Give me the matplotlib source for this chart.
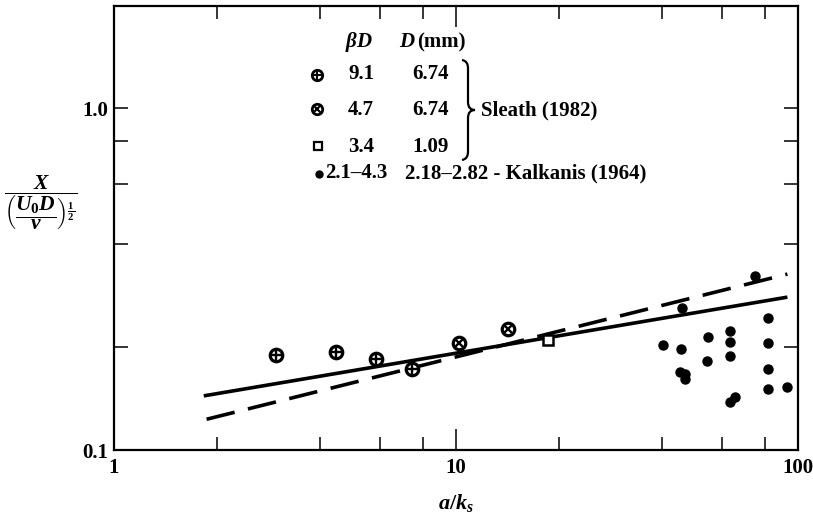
import numpy as np
import matplotlib
matplotlib.use('Agg')
import matplotlib.pyplot as plt
from matplotlib.path import Path
from matplotlib.patches import PathPatch
from matplotlib.ticker import FixedLocator, FixedFormatter, NullFormatter

plt.rcParams['font.family'] = ['Liberation Serif', 'DejaVu Serif']
plt.rcParams['font.weight'] = 'bold'
plt.rcParams['mathtext.fontset'] = 'custom'
plt.rcParams['mathtext.rm'] = 'Liberation Serif:bold'
plt.rcParams['mathtext.it'] = 'Liberation Serif:italic:bold'
plt.rcParams['mathtext.bf'] = 'Liberation Serif:bold'

# Sleath (1982) points
plus_x = [2.98, 4.47, 5.82, 7.42]          # betaD = 9.1
plus_y = [0.190, 0.194, 0.185, 0.172]
cross_x = [10.2, 14.2]                      # betaD = 4.7
cross_y = [0.205, 0.226]
square_x = [18.6]                           # betaD = 3.4
square_y = [0.210]

# Kalkanis (1964)
kalk_x = [75.0, 45.7, 81.8, 63.3, 54.4, 63.3, 81.8, 40.4, 45.6, 63.3,
          54.2, 81.8, 45.1, 46.6, 46.6, 81.8, 92.9, 63.2, 65.4]
kalk_y = [0.323, 0.261, 0.243, 0.223, 0.214, 0.207, 0.206, 0.203, 0.198, 0.188,
          0.182, 0.172, 0.169, 0.167, 0.161, 0.151, 0.153, 0.138, 0.143]

# fitted lines (end points)
solid_x = [1.83, 93.1]
solid_y = [0.144, 0.280]
dash_x = [1.865, 93.1]
dash_y = [0.123, 0.327]

x_ticks = [1, 10, 100]
x_tick_labels = ['1', '10', '100']
x_minor = [2, 4, 6, 8, 20, 40, 60, 80]
y_ticks = [0.1, 1.0]
y_tick_labels = ['0.1', '1.0']
y_minor = [0.2, 0.4, 0.6, 0.8]

W, H = 813, 516
fig = plt.figure(figsize=(W / 100, H / 100), dpi=100)
ax = fig.add_axes([114 / W, 1 - 450 / H, 684 / W, 444 / H])
ax.set_xscale('log')
ax.set_yscale('log')
ax.set_xlim(1, 100)
ax.set_ylim(0.1, 1.99)


def px(x, y):
    # pixel position (from top left) -> figure fraction
    return x / W, 1 - y / H


ax.plot(solid_x, solid_y, color='black', lw=2.6, solid_capstyle='butt')
ax.plot(dash_x, dash_y, color='black', lw=2.6, linestyle=(0, (8, 3.8)), dash_capstyle='butt')

ms = 9
ax.plot(plus_x, plus_y, 'o', ms=ms, mfc='white', mec='black', mew=2.3, ls='none')
ax.plot(plus_x, plus_y, '+', ms=ms, mec='black', mew=1.7, ls='none')
ax.plot(cross_x, cross_y, 'o', ms=ms, mfc='white', mec='black', mew=2.3, ls='none')
ax.plot(cross_x, cross_y, 'x', ms=ms * 0.7, mec='black', mew=1.7, ls='none')
ax.plot(square_x, square_y, 's', ms=7.5, mfc='white', mec='black', mew=1.8, ls='none')
ax.plot(kalk_x, kalk_y, 'o', ms=6.5, color='black', ls='none')

# ticks
ax.xaxis.set_major_locator(FixedLocator(x_ticks))
ax.xaxis.set_major_formatter(FixedFormatter(x_tick_labels))
ax.xaxis.set_minor_locator(FixedLocator(x_minor))
ax.xaxis.set_minor_formatter(NullFormatter())
ax.yaxis.set_major_locator(FixedLocator(y_ticks))
ax.yaxis.set_major_formatter(FixedFormatter(y_tick_labels))
ax.yaxis.set_minor_locator(FixedLocator(y_minor))
ax.yaxis.set_minor_formatter(NullFormatter())
ax.tick_params(which='both', direction='in', top=True, right=True, width=1.1, labelsize=15)
ax.tick_params(axis='x', which='major', length=15, pad=6)
ax.tick_params(axis='x', which='minor', length=9.5)
ax.tick_params(axis='y', which='both', length=10, pad=4)
for s in ax.spines.values():
    s.set_linewidth(1.6)

ax.set_xlabel(r'$a/k_s$', fontsize=16, labelpad=10)
fig.text(*px(4, 203), r'$\dfrac{X}{\left(\dfrac{U_0D}{\nu}\right)^{\frac{1}{2}}}$',
         fontsize=15.5, ha='left', va='center')

# legend block
fs = 15
fig.text(*px(345, 42), r'$\beta D$', fontsize=fs, va='center', ha='left')
fig.text(*px(399, 42), r'$D$', fontsize=fs, va='center', ha='left')
fig.text(*px(417, 42), '(mm)', fontsize=fs, va='center', ha='left')

rows_y = [74, 110, 147]
beta_labels = ['9.1', '4.7', '3.4']
d_labels = ['6.74', '6.74', '1.09']
for yy, b, d in zip(rows_y, beta_labels, d_labels):
    fig.text(*px(348, yy), b, fontsize=fs, va='center', ha='left')
    fig.text(*px(449, yy), d, fontsize=fs, va='center', ha='right')

mx, my = px(317, 75)
fig.lines.append(plt.Line2D([mx], [my], marker='o', ms=7.5, mfc='white', mec='black', mew=2, transform=fig.transFigure))
fig.lines.append(plt.Line2D([mx], [my], marker='+', ms=7.5, mec='black', mew=1.5, transform=fig.transFigure))
mx, my = px(317, 109)
fig.lines.append(plt.Line2D([mx], [my], marker='o', ms=7.5, mfc='white', mec='black', mew=2, transform=fig.transFigure))
fig.lines.append(plt.Line2D([mx], [my], marker='x', ms=5.2, mec='black', mew=1.5, transform=fig.transFigure))
mx, my = px(318, 146)
fig.lines.append(plt.Line2D([mx], [my], marker='s', ms=6, mfc='white', mec='black', mew=1.6, transform=fig.transFigure))
mx, my = px(319, 174)
fig.lines.append(plt.Line2D([mx], [my], marker='o', ms=5, color='black', transform=fig.transFigure))

fig.text(*px(325, 173), '2.1\u20134.3', fontsize=fs, va='center', ha='left')
fig.text(*px(405, 173), '2.18\u20132.82 - Kalkanis (1964)', fontsize=fs, va='center', ha='left')
fig.text(*px(481, 110), 'Sleath (1982)', fontsize=fs, va='center', ha='left')

# curly brace
bx0, bx1, bx2 = 462, 468, 475
pts = [px(bx0, 60), px(bx1, 61), px(bx1, 68),
       px(bx1, 102),
       px(bx1, 110), px(bx2, 110),
       px(bx1, 110), px(bx1, 118),
       px(bx1, 152),
       px(bx1, 159), px(bx0, 160)]
codes = [Path.MOVETO, Path.CURVE3, Path.CURVE3,
         Path.LINETO,
         Path.CURVE3, Path.CURVE3,
         Path.CURVE3, Path.CURVE3,
         Path.LINETO,
         Path.CURVE3, Path.CURVE3]
brace = PathPatch(Path(pts, codes), fill=False, lw=1.6, edgecolor='black', transform=fig.transFigure)
fig.patches.append(brace)

fig.savefig('out.png', dpi=100)
